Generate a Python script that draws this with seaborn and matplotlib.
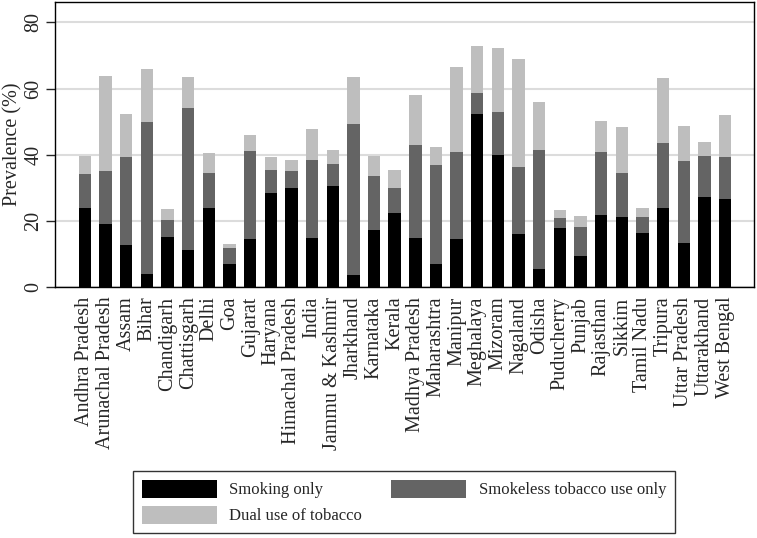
import matplotlib
matplotlib.use("Agg")
import matplotlib.pyplot as plt
import seaborn as sns
import pandas as pd
import numpy as np

states = ["Andhra Pradesh", "Arunachal Pradesh", "Assam", "Bihar", "Chandigarh",
          "Chattisgarh", "Delhi", "Goa", "Gujarat", "Haryana", "Himachal Pradesh",
          "India", "Jammu & Kashmir", "Jharkhand", "Karnataka", "Kerala",
          "Madhya Pradesh", "Maharashtra", "Manipur", "Meghalaya", "Mizoram",
          "Nagaland", "Odisha", "Puducherry", "Punjab", "Rajasthan", "Sikkim",
          "Tamil Nadu", "Tripura", "Uttar Pradesh", "Uttarakhand", "West Bengal"]

smoking_only = [23.9, 19.0, 12.7, 4.0, 15.1, 11.3, 23.9, 7.0, 14.6, 28.5, 30.0,
                14.8, 30.6, 3.6, 17.2, 22.3, 14.9, 7.0, 14.5, 52.4, 39.8,
                16.1, 5.3, 17.7, 9.3, 21.7, 21.1, 16.3, 23.9, 13.3, 27.2, 26.5]
smokeless_only = [10.3, 16.0, 26.5, 45.8, 5.1, 42.9, 10.5, 4.7, 26.4, 6.8, 5.1,
                  23.6, 6.6, 45.7, 16.4, 7.5, 28.0, 29.9, 26.3, 6.2, 13.0,
                  20.3, 36.1, 3.2, 8.9, 19.0, 13.3, 4.8, 19.8, 24.8, 12.3, 12.7]
dual_use = [5.4, 28.7, 13.2, 16.2, 3.4, 9.4, 6.1, 1.2, 5.0, 4.0, 3.3,
            9.3, 4.2, 14.1, 6.0, 5.5, 15.2, 5.4, 25.6, 14.4, 19.4,
            32.6, 14.6, 2.4, 3.2, 9.6, 14.1, 2.7, 19.4, 10.5, 4.4, 12.9]

series_labels = ["Smoking only", "Smokeless tobacco use only", "Dual use of tobacco"]
colors = ["#000000", "#646464", "#bebebe"]

df = pd.DataFrame({"state": states, "smoking": smoking_only,
                   "smokeless": smokeless_only, "dual": dual_use})
df["top_smokeless"] = df["smoking"] + df["smokeless"]
df["top_dual"] = df["top_smokeless"] + df["dual"]

sns.set_style("white")
plt.rcParams["font.family"] = ["Liberation Serif", "DejaVu Serif"]

fig = plt.figure(figsize=(7.57, 5.38), dpi=100)
ax = fig.add_axes([55 / 757, 1 - 287 / 538, (754 - 55) / 757, (287 - 2) / 538])

ax.grid(axis="y", color="#dcdcdc", linewidth=1.5, zorder=0)
ax.set_axisbelow(True)

sns.barplot(data=df, x="state", y="top_dual", color=colors[2], saturation=1,
            width=0.6, ax=ax, label=series_labels[2], linewidth=0, zorder=2)
sns.barplot(data=df, x="state", y="top_smokeless", color=colors[1], saturation=1,
            width=0.6, ax=ax, label=series_labels[1], linewidth=0, zorder=3)
sns.barplot(data=df, x="state", y="smoking", color=colors[0], saturation=1,
            width=0.6, ax=ax, label=series_labels[0], linewidth=0, zorder=4)

ax.set_ylim(0, 86.2)
ax.set_xlim(-1.45, len(states) - 1 + 1.4)
ax.set_yticks([0, 20, 40, 60, 80])
ax.set_xlabel("")
ax.set_ylabel("Prevalence (%)", fontsize=14.5, labelpad=1)
ax.tick_params(axis="y", labelsize=14.5, length=6.5, width=1, direction="out",
               left=True, labelrotation=90, pad=2)
for lbl in ax.get_yticklabels():
    lbl.set_va("center")
ax.tick_params(axis="x", labelsize=14.5, length=0, labelrotation=90, pad=7)
for sp in ax.spines.values():
    sp.set_color("black")
    sp.set_linewidth(1)

leg = ax.get_legend()
if leg is not None:
    leg.remove()
handles, labels = ax.get_legend_handles_labels()
hmap = dict(zip(labels, handles))
order = [series_labels[0], series_labels[2], series_labels[1]]
fig.legend([hmap[l] for l in order], order, loc="center",
           bbox_to_anchor=(404 / 757, 1 - 502 / 538), ncol=2,
           fontsize=12, frameon=True, fancybox=False, edgecolor="black",
           handlelength=4.5, handleheight=1.3, columnspacing=1.75,
           borderpad=0.5, labelspacing=0.45, handletextpad=0.75)
fig.legends[0].get_frame().set_linewidth(1)

fig.savefig("out.png", dpi=100)
